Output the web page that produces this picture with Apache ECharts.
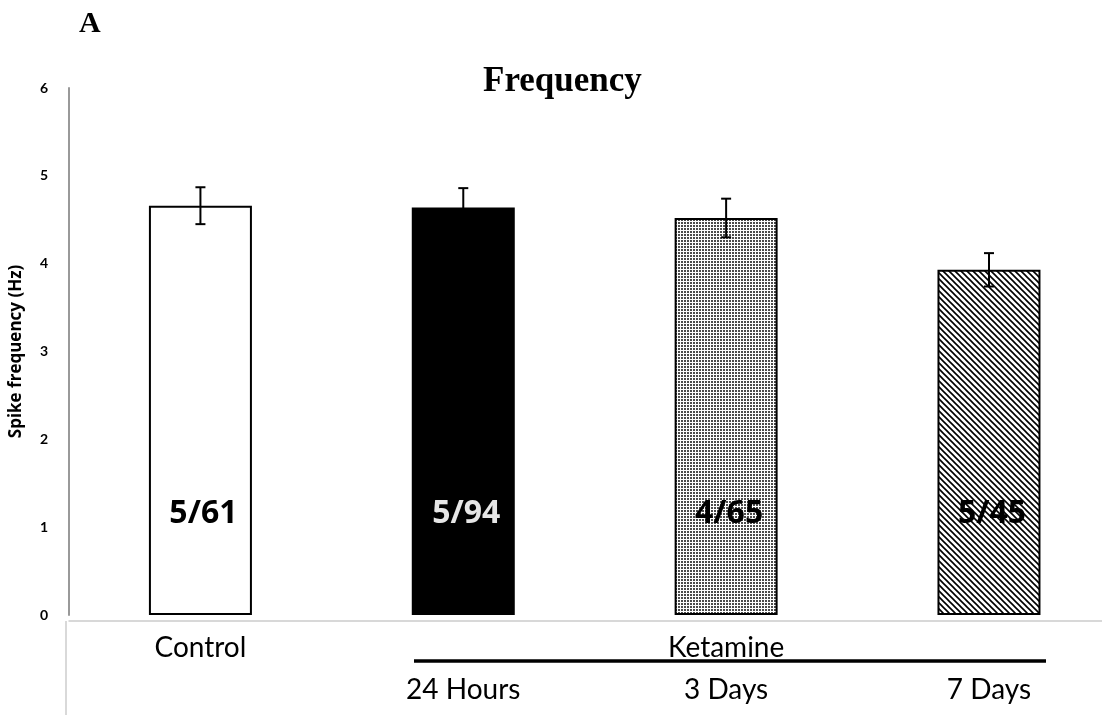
<!DOCTYPE html>
<html>
<head>
<meta charset="utf-8">
<script src="https://cdn.jsdelivr.net/npm/echarts@6/dist/echarts.min.js"></script>
<style>html,body{margin:0;padding:0;background:#fff}#c{width:1102px;height:715px}</style>
</head>
<body>
<div id="c"></div>
<script>
const categories = ['Control', '24 Hours', '3 Days', '7 Days'];
const groupLabel = 'Ketamine';
const frequency = [4.66, 4.64, 4.52, 3.93];
const errors = [0.21, 0.22, 0.22, 0.19];
const countLabels = ['5/61', '5/94', '4/65', '5/45'];
const yTicks = [0, 1, 2, 3, 4, 5, 6];

function dotPattern() {
  const c = document.createElement('canvas');
  c.width = 3; c.height = 3;
  const g = c.getContext('2d');
  g.fillStyle = '#fff'; g.fillRect(0, 0, 3, 3);
  g.fillStyle = 'rgba(0,0,0,0.7)'; g.fillRect(0, 0, 2, 2);
  return c;
}
function diagPattern() {
  const c = document.createElement('canvas');
  c.width = 6; c.height = 6;
  const g = c.getContext('2d');
  g.fillStyle = '#fff'; g.fillRect(0, 0, 6, 6);
  g.strokeStyle = '#000'; g.lineWidth = 1.6;
  g.beginPath();
  g.moveTo(-1, -1); g.lineTo(7, 7);
  g.moveTo(-1, 5); g.lineTo(1, 7);
  g.moveTo(5, -1); g.lineTo(7, 1);
  g.stroke();
  return c;
}

const fills = ['#ffffff', '#000000', {image: dotPattern(), repeat: 'repeat'}, {image: diagPattern(), repeat: 'repeat'}];
const labelColors = ['#000', '#e6e6e6', '#000', '#000'];

const chart = echarts.init(document.getElementById('c'), null, {renderer: 'canvas'});
chart.setOption({
  animation: false,
  backgroundColor: '#fff',
  title: [
    {text: 'A', left: 74, top: 4, textStyle: {fontFamily: 'Liberation Serif', fontWeight: 'bold', fontSize: 30, color: '#000'}},
    {text: 'Frequency', left: 478, top: 59, textStyle: {fontFamily: 'Liberation Serif', fontWeight: 'bold', fontSize: 35, color: '#000'}}
  ],
  grid: {left: 68, right: 0, top: 88, height: 527, containLabel: false},
  xAxis: {
    type: 'value',
    min: -0.5,
    max: 3.43,
    interval: 0.5,
    offset: 6,
    splitLine: {show: false},
    axisLine: {onZero: false, lineStyle: {color: '#cccccc', width: 1.5}},
    axisTick: {show: false},
    axisLabel: {
      showMinLabel: true, showMaxLabel: false,
      margin: 6,
      fontFamily: 'Lato',
      fontSize: 28,
      color: '#000',
      lineHeight: 42,
      formatter: function (v) {
        const i = Math.round(v);
        if (Math.abs(v - i) > 1e-6 || i < 0 || i >= categories.length) return '';
        if (i === 0) return categories[i] + '\n ';
        if (i === 2) return groupLabel + '\n' + categories[i];
        return ' \n' + categories[i];
      }
    }
  },
  yAxis: {
    type: 'value',
    min: 0, max: 6, interval: 1,
    name: 'Spike frequency (Hz)',
    nameLocation: 'middle',
    nameGap: 44,
    nameTextStyle: {fontFamily: 'Open Sans', fontWeight: 'bold', fontSize: 17, color: '#000'},
    axisLine: {show: true, onZero: false, lineStyle: {color: '#999999', width: 2}},
    axisTick: {show: false},
    splitLine: {show: false},
    axisLabel: {
      margin: 21, fontFamily: 'Lato', fontWeight: 'bold', fontSize: 14, color: '#000',
      formatter: function (v) { return yTicks.indexOf(v) >= 0 ? String(v) : ''; }
    }
  },
  series: [
    {
      type: 'bar',
      barWidth: 103,
      data: frequency.map(function (v, i) {
        return {
          value: [i, v],
          itemStyle: {color: fills[i], borderColor: '#000', borderWidth: 2},
          label: {color: labelColors[i]}
        };
      }),
      label: {
        show: true,
        position: 'insideBottom',
        distance: 86,
        offset: [3, 0],
        fontFamily: 'Open Sans',
        fontWeight: 'bold',
        fontSize: 32,
        lineHeight: 30,
        formatter: function (p) { return countLabels[p.dataIndex]; }
      }
    },
    {
      type: 'custom',
      data: frequency.map(function (v, i) { return [i, v, errors[i]]; }),
      renderItem: function (params, api) {
        const x = api.value(0), y = api.value(1), e = api.value(2);
        const hi = api.coord([x, y + e]);
        const lo = api.coord([x, y - e]);
        const w = 5;
        const st = {stroke: '#000', lineWidth: 2};
        return {
          type: 'group',
          children: [
            {type: 'line', shape: {x1: hi[0], y1: hi[1], x2: lo[0], y2: lo[1]}, style: st},
            {type: 'line', shape: {x1: hi[0] - w, y1: hi[1], x2: hi[0] + w, y2: hi[1]}, style: st},
            {type: 'line', shape: {x1: lo[0] - w, y1: lo[1], x2: lo[0] + w, y2: lo[1]}, style: st}
          ]
        };
      },
      z: 10
    }
  ],
  graphic: [
    {type: 'line', shape: {x1: 66, y1: 621, x2: 66, y2: 715}, style: {stroke: '#cccccc', lineWidth: 1.5}},
    {type: 'line', shape: {x1: 414, y1: 661, x2: 1046, y2: 661}, style: {stroke: '#000', lineWidth: 3.5}}
  ]
});
</script>
</body>
</html>
